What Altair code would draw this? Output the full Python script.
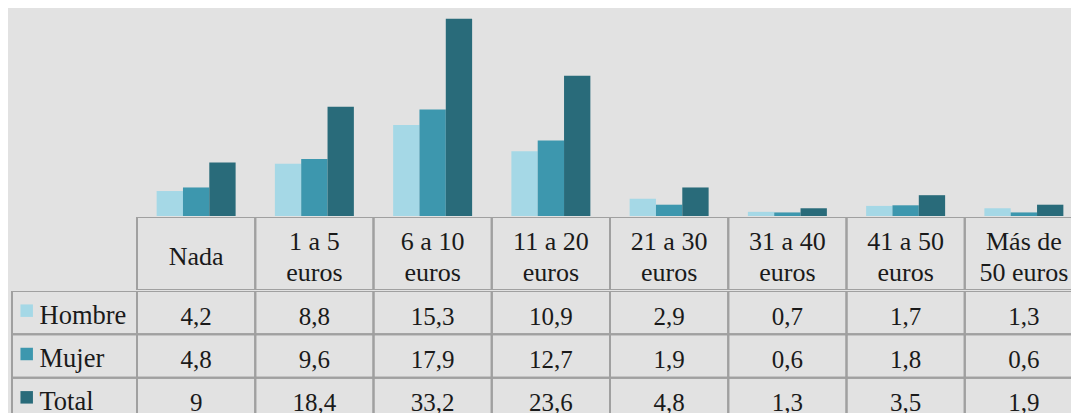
import altair as alt
import pandas as pd

# ---- data ----
categories = ["Nada", "1 a 5 euros", "6 a 10 euros", "11 a 20 euros",
              "21 a 30 euros", "31 a 40 euros", "41 a 50 euros", "Más de 50 euros"]
header_labels = ["Nada", "1 a 5\neuros", "6 a 10\neuros", "11 a 20\neuros",
                 "21 a 30\neuros", "31 a 40\neuros", "41 a 50\neuros", "Más de\n50 euros"]
series = ["Hombre", "Mujer", "Total"]
hombre = [4.2, 8.8, 15.3, 10.9, 2.9, 0.7, 1.7, 1.3]
mujer = [4.8, 9.6, 17.9, 12.7, 1.9, 0.6, 1.8, 0.6]
total = [9, 18.4, 33.2, 23.6, 4.8, 1.3, 3.5, 1.9]
colors = ["#a5d8e6", "#3d97ae", "#296b7a"]

rows = []
for s, vals in zip(series, [hombre, mujer, total]):
    for c, v in zip(categories, vals):
        rows.append({"cat": c, "serie": s, "valor": v,
                     "txt": str(v).replace(".", ",")})
df = pd.DataFrame(rows)
hdr = pd.DataFrame({"cat": categories, "label": header_labels,
                    "nlines": [len(h.split("\n")) for h in header_labels]})
lab = pd.DataFrame({"serie": series})

# ---- layout / style ----
COLS_SPAN = 946     # full extent of the 8 columns (last one is cut by the frame)
W_VIEW = 934        # visible width of the column area
W_LAB = 126
H_BAR = 208
H_HDR = 73
H_ROWS = 130
BG = "#e2e2e2"
GRID = "#a0a0a0"
TXT = "#1a1a1a"
FONT = "Liberation Serif, Times New Roman, DejaVu Serif, serif"

color_scale = alt.Scale(domain=series, range=colors)
x_grid = alt.X("cat:N", sort=categories, axis=None,
               scale=alt.Scale(paddingInner=0, paddingOuter=0, range=[0, COLS_SPAN]))
y_rows = alt.Y("serie:N", sort=series, axis=None,
               scale=alt.Scale(paddingInner=0, paddingOuter=0))


def spacer(h, with_line=False):
    base = alt.Chart(pd.DataFrame({"a": [0]}))
    layers = [base.mark_rect(opacity=0).encode(
        x=alt.value(0), x2=alt.value("width"),
        y=alt.value(0), y2=alt.value("height"),
    )]
    if with_line:
        layers.append(base.mark_rule(color=GRID, strokeWidth=1).encode(
            x=alt.value(W_LAB - 0.5), y=alt.value(0), y2=alt.value("height")
        ))
    return alt.layer(*layers).properties(width=W_LAB, height=h)


bars = alt.Chart(df).mark_bar(clip=True).encode(
    x=alt.X("cat:N", sort=categories, axis=None,
            scale=alt.Scale(paddingInner=0.332, paddingOuter=0.166,
                            range=[0, COLS_SPAN])),
    xOffset=alt.XOffset("serie:N", sort=series,
                        scale=alt.Scale(paddingInner=0, paddingOuter=0)),
    y=alt.Y("valor:Q", axis=None, scale=alt.Scale(domain=[0, 35], nice=False)),
    color=alt.Color("serie:N", scale=color_scale, legend=None),
).properties(width=W_VIEW, height=H_BAR)

hdr_cells = alt.Chart(hdr).mark_rect(filled=False, color=GRID, strokeWidth=2,
                                     clip=True).encode(
    x=x_grid, y=alt.value(0), y2=alt.value("height")
)
hdr_text1 = alt.Chart(hdr).transform_filter("datum.nlines == 1").mark_text(
    font=FONT, fontSize=26, color=TXT, baseline="middle", dy=3, clip=True
).encode(x=x_grid, y=alt.value(H_HDR / 2), text="label:N")
hdr_text2 = alt.Chart(hdr).transform_filter("datum.nlines == 2").mark_text(
    font=FONT, fontSize=26, color=TXT, lineBreak="\n", lineHeight=31,
    baseline="middle", dy=-12, clip=True
).encode(x=x_grid, y=alt.value(H_HDR / 2), text="label:N")
header = alt.layer(hdr_cells, hdr_text1, hdr_text2).properties(width=W_VIEW, height=H_HDR)

val_cells = alt.Chart(df).mark_rect(filled=False, color=GRID, strokeWidth=2,
                                    clip=True).encode(
    x=x_grid, y=y_rows
)
val_text = alt.Chart(df).mark_text(
    font=FONT, fontSize=25, color=TXT, baseline="middle", dy=4, clip=True
).encode(x=x_grid, y=y_rows, text="txt:N")
values = alt.layer(val_cells, val_text).properties(width=W_VIEW, height=H_ROWS)

lab_cells = alt.Chart(lab).mark_rect(filled=False, color=GRID, strokeWidth=2,
                                     clip=True).encode(
    y=y_rows, x=alt.value(1), x2=alt.value("width")
)
lab_sq = alt.Chart(lab).mark_square(size=156, opacity=1, yOffset=-2).encode(
    y=y_rows, x=alt.value(15.7),
    color=alt.Color("serie:N", scale=color_scale, legend=None),
)
lab_text = alt.Chart(lab).mark_text(
    font=FONT, fontSize=26.5, color=TXT, align="left", baseline="middle", dy=3,
    clip=True
).encode(y=y_rows, x=alt.value(28.5), text="serie:N")
labels = alt.layer(lab_cells, lab_sq, lab_text).properties(width=W_LAB, height=H_ROWS)

chart = alt.vconcat(
    alt.hconcat(spacer(H_BAR), bars, spacing=0),
    alt.hconcat(spacer(H_HDR, with_line=True), header, spacing=0),
    alt.hconcat(labels, values, spacing=0),
    spacing=0,
).properties(
    padding={"left": 3, "top": 0, "right": 0, "bottom": 0},
    background=BG,
).configure_view(stroke=None)

chart.save("out.html", embed_options={"renderer": "svg", "actions": False})
